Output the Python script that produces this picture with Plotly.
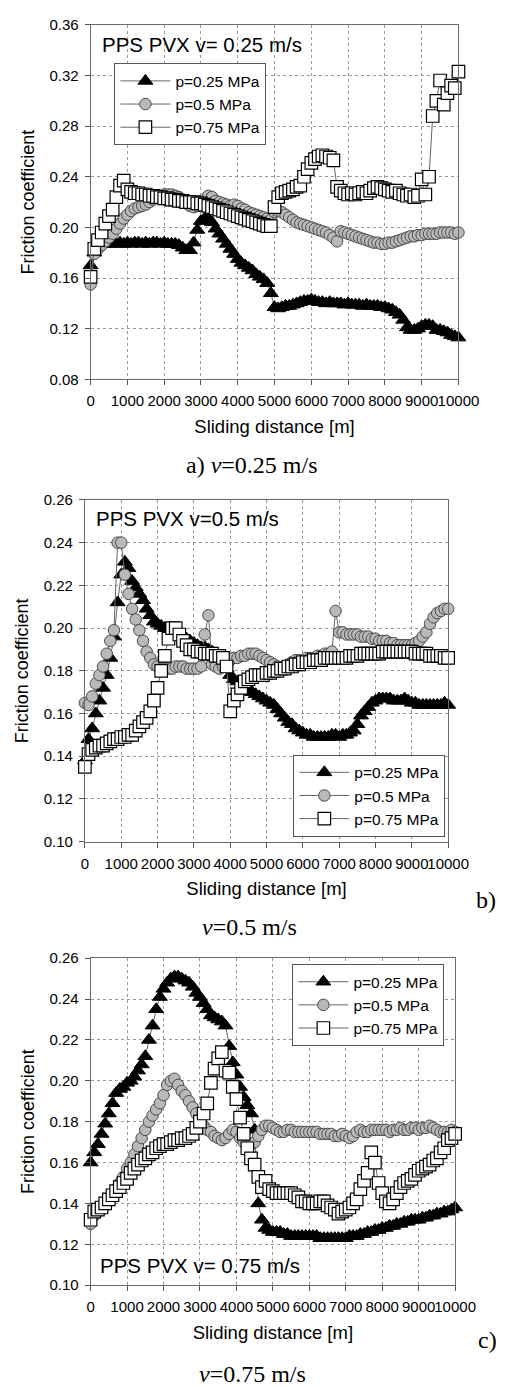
import plotly.graph_objects as go

W, H = 518, 1387

# Sliding distance grid [m]
distance = list(range(0, 10001, 100))

series_names = ["p=0.25 MPa", "p=0.5 MPa", "p=0.75 MPa"]
x_ticks = [0, 1000, 2000, 3000, 4000, 5000, 6000, 7000, 8000, 9000, 10000]

# ---- a) v = 0.25 m/s ----
a_p025 = [0.170,0.180,0.185,0.187,0.188,0.187,0.188,0.187,0.188,0.187,
          0.188,0.187,0.188,0.188,0.187,0.188,0.187,0.188,0.188,0.187,
          0.188,0.187,0.187,0.187,0.186,0.184,0.182,0.182,0.188,0.198,
          0.205,0.207,0.207,0.204,0.199,0.195,0.191,0.187,0.183,0.179,
          0.175,0.172,0.170,0.168,0.166,0.163,0.161,0.159,0.156,0.148,
          0.137,0.136,0.137,0.138,0.138,0.139,0.140,0.141,0.142,0.142,
          0.143,0.142,0.141,0.141,0.140,0.141,0.140,0.140,0.140,0.139,
          0.140,0.139,0.139,0.139,0.138,0.139,0.138,0.138,0.138,0.137,
          0.137,0.136,0.135,0.133,0.131,0.127,0.121,0.119,0.119,0.120,
          0.122,0.123,0.123,0.122,0.119,0.119,0.118,0.117,0.115,0.114,
          0.113]
a_p05 = [0.155,0.179,0.183,0.186,0.189,0.192,0.195,0.199,0.203,0.207,
         0.210,0.213,0.215,0.216,0.217,0.218,0.220,0.222,0.224,0.225,
         0.226,0.226,0.226,0.225,0.224,0.222,0.219,0.217,0.216,0.217,
         0.219,0.222,0.225,0.224,0.221,0.220,0.219,0.218,0.217,0.218,
         0.217,0.215,0.214,0.212,0.211,0.210,0.209,0.208,0.207,0.206,
         0.212,0.213,0.212,0.210,0.208,0.206,0.204,0.203,0.202,0.201,
         0.200,0.199,0.198,0.197,0.196,0.194,0.192,0.189,0.197,0.196,
         0.195,0.194,0.193,0.192,0.191,0.190,0.189,0.188,0.188,0.187,
         0.187,0.188,0.188,0.189,0.190,0.191,0.192,0.193,0.193,0.194,
         0.194,0.195,0.195,0.195,0.195,0.196,0.196,0.196,0.196,0.195,
         0.196]
a_p075 = [0.161,0.183,0.190,0.196,0.203,0.209,0.214,0.224,0.233,0.237,
          0.230,0.228,0.227,0.227,0.226,0.226,0.225,0.225,0.224,0.224,
          0.223,0.223,0.222,0.222,0.221,0.221,0.220,0.220,0.220,0.219,
          0.219,0.218,0.217,0.216,0.215,0.214,0.213,0.212,0.211,0.210,
          0.209,0.208,0.207,0.206,0.205,0.204,0.203,0.202,0.201,0.201,
          0.216,0.224,0.227,0.228,0.229,0.230,0.232,0.233,0.240,0.246,
          0.251,0.254,0.256,0.257,0.256,0.255,0.253,0.232,0.229,0.227,
          0.226,0.227,0.226,0.227,0.228,0.227,0.229,0.231,0.232,0.231,
          0.230,0.229,0.228,0.229,0.227,0.226,0.225,0.226,0.224,0.225,
          0.238,0.226,0.240,0.288,0.300,0.316,0.297,0.306,0.312,0.310,
          0.323]

# ---- b) v = 0.5 m/s ----
b_p025 = [0.138,0.148,0.153,0.160,0.166,0.172,0.178,0.186,0.196,0.212,
          0.225,0.231,0.228,0.222,0.219,0.216,0.213,0.209,0.206,0.203,
          0.202,0.201,0.200,0.200,0.199,0.198,0.197,0.196,0.195,0.194,
          0.193,0.192,0.191,0.191,0.190,0.189,0.188,0.185,0.183,0.181,
          0.178,0.176,0.175,0.173,0.172,0.171,0.170,0.169,0.168,0.167,
          0.166,0.165,0.164,0.162,0.160,0.158,0.156,0.155,0.153,0.152,
          0.151,0.150,0.150,0.149,0.149,0.149,0.149,0.149,0.150,0.150,
          0.149,0.150,0.150,0.151,0.152,0.155,0.159,0.161,0.163,0.165,
          0.166,0.167,0.167,0.167,0.167,0.166,0.166,0.166,0.167,0.166,
          0.165,0.165,0.164,0.164,0.164,0.164,0.164,0.164,0.164,0.165,
          0.164]
b_p05 = [0.165,0.164,0.168,0.174,0.178,0.182,0.188,0.194,0.199,0.240,
         0.240,0.225,0.216,0.209,0.204,0.199,0.194,0.189,0.186,0.183,
         0.182,0.181,0.181,0.181,0.181,0.182,0.182,0.182,0.181,0.181,
         0.181,0.181,0.182,0.197,0.206,0.183,0.182,0.181,0.182,0.184,
         0.185,0.186,0.186,0.187,0.187,0.188,0.188,0.188,0.187,0.186,
         0.185,0.184,0.183,0.182,0.181,0.182,0.183,0.184,0.185,0.185,
         0.185,0.186,0.186,0.186,0.187,0.187,0.188,0.188,0.189,0.208,
         0.198,0.198,0.197,0.197,0.197,0.197,0.196,0.196,0.196,0.195,
         0.195,0.194,0.194,0.194,0.193,0.193,0.192,0.192,0.192,0.192,
         0.192,0.193,0.194,0.196,0.198,0.202,0.205,0.207,0.208,0.209,
         0.209]
b_p075 = [0.135,0.141,0.143,0.144,0.145,0.145,0.146,0.147,0.148,0.148,
          0.149,0.149,0.150,0.150,0.152,0.154,0.156,0.158,0.161,0.166,
          0.172,0.180,0.187,0.195,0.200,0.200,0.197,0.194,0.192,0.190,
          0.190,0.189,0.189,0.188,0.188,0.188,0.187,0.187,0.186,0.182,
          0.161,0.166,0.169,0.172,0.175,0.176,0.177,0.178,0.178,0.178,
          0.179,0.179,0.180,0.180,0.181,0.181,0.182,0.182,0.183,0.183,
          0.184,0.184,0.184,0.185,0.185,0.185,0.186,0.186,0.186,0.186,
          0.186,0.186,0.186,0.187,0.187,0.187,0.188,0.188,0.188,0.188,
          0.188,0.188,0.189,0.189,0.189,0.189,0.189,0.189,0.189,0.189,
          0.189,0.188,0.188,0.188,0.188,0.187,0.187,0.187,0.187,0.186,
          0.186]

# ---- c) v = 0.75 m/s ----
c_p025 = [0.160,0.165,0.169,0.174,0.179,0.184,0.189,0.194,0.196,0.197,
          0.199,0.200,0.202,0.205,0.208,0.212,0.220,0.227,0.235,0.241,
          0.245,0.248,0.250,0.251,0.251,0.250,0.249,0.248,0.246,0.243,
          0.241,0.238,0.235,0.232,0.231,0.230,0.229,0.227,0.217,0.209,
          0.203,0.197,0.192,0.188,0.184,0.176,0.140,0.132,0.128,0.127,
          0.126,0.126,0.126,0.125,0.125,0.124,0.124,0.124,0.124,0.124,
          0.124,0.124,0.124,0.123,0.123,0.123,0.123,0.123,0.123,0.123,
          0.123,0.124,0.124,0.124,0.125,0.125,0.126,0.126,0.127,0.127,
          0.128,0.128,0.129,0.129,0.130,0.130,0.131,0.131,0.132,0.132,
          0.132,0.133,0.133,0.134,0.134,0.135,0.135,0.136,0.136,0.137,
          0.138]
c_p05 = [0.130,0.134,0.136,0.137,0.139,0.141,0.144,0.147,0.150,0.153,
         0.157,0.160,0.164,0.168,0.172,0.176,0.180,0.183,0.186,0.189,
         0.193,0.198,0.200,0.201,0.198,0.195,0.193,0.190,0.187,0.184,
         0.181,0.178,0.176,0.175,0.173,0.172,0.171,0.172,0.174,0.176,
         0.175,0.172,0.170,0.169,0.169,0.170,0.173,0.176,0.178,0.178,
         0.177,0.176,0.175,0.175,0.176,0.176,0.175,0.175,0.175,0.175,
         0.175,0.175,0.175,0.174,0.174,0.174,0.174,0.173,0.173,0.174,
         0.173,0.172,0.173,0.175,0.176,0.175,0.175,0.176,0.176,0.176,
         0.176,0.176,0.175,0.176,0.176,0.177,0.176,0.176,0.177,0.177,
         0.176,0.177,0.177,0.178,0.177,0.176,0.175,0.175,0.175,0.176,
         0.175]
c_p075 = [0.132,0.136,0.137,0.138,0.140,0.142,0.144,0.146,0.148,0.150,
          0.152,0.155,0.157,0.159,0.161,0.162,0.164,0.165,0.167,0.168,
          0.169,0.169,0.170,0.171,0.171,0.172,0.172,0.173,0.174,0.177,
          0.180,0.184,0.189,0.199,0.206,0.211,0.214,0.205,0.204,0.197,
          0.191,0.182,0.174,0.167,0.162,0.159,0.153,0.148,0.151,0.147,
          0.146,0.145,0.145,0.145,0.145,0.145,0.144,0.143,0.141,0.141,
          0.140,0.140,0.140,0.141,0.141,0.139,0.138,0.137,0.135,0.136,
          0.137,0.138,0.140,0.142,0.147,0.151,0.155,0.165,0.160,0.150,
          0.145,0.141,0.140,0.142,0.145,0.148,0.150,0.151,0.152,0.154,
          0.156,0.157,0.158,0.159,0.161,0.162,0.165,0.167,0.171,0.172,
          0.174]

panels = [
    dict(data=[a_p025, a_p05, a_p075], yrange=[0.08, 0.36], dtick=0.04,
         box=(91, 477.5, 16, 375), legend_box=(116, 55),
         inner="PPS PVX v= 0.25 m/s", inner_pos=(101, 36)),
    dict(data=[b_p025, b_p05, b_p075], yrange=[0.10, 0.26], dtick=0.02,
         box=(85, 466.7, 497, 843), legend_box=(304, 755),
         inner="PPS PVX v=0.5 m/s", inner_pos=(95, 516)),
    dict(data=[c_p025, c_p05, c_p075], yrange=[0.10, 0.26], dtick=0.02,
         box=(91, 474, 961, 1292), legend_box=(303, 967),
         inner="PPS PVX v= 0.75 m/s", inner_pos=(99, 1272)),
]

styles = [
    dict(symbol="triangle-up", size=13, color="black", line=dict(color="black", width=1)),
    dict(symbol="circle", size=11.5, color="#b9b9b9", line=dict(color="#4a4a4a", width=1)),
    dict(symbol="square", size=12.5, color="white", line=dict(color="black", width=1.2)),
]

FONT = "Arial, Liberation Sans, sans-serif"
SERIF = "Times New Roman, Liberation Serif, serif"

fig = go.Figure()
layout = dict(width=W, height=H, margin=dict(l=0, r=0, t=0, b=0),
              paper_bgcolor="white", plot_bgcolor="white",
              font=dict(family=FONT, color="black"), showlegend=True)
annotations = []

for i, p in enumerate(panels):
    k = "" if i == 0 else str(i + 1)
    xl, xr, yt, yb = p["box"]
    legend_name = "legend" + k
    for j, (vals, st) in enumerate(zip(p["data"], styles)):
        fig.add_trace(go.Scatter(
            x=distance, y=vals, mode="lines+markers", name=series_names[j],
            xaxis="x" + k, yaxis="y" + k, legend=legend_name,
            line=dict(color="#666666", width=1),
            marker=st, cliponaxis=False))
    common = dict(showline=True, linecolor="#6a6a6a", linewidth=1, mirror=True,
                  ticks="outside", ticklen=5, tickcolor="#555555",
                  showgrid=True, gridcolor="#9a9a9a", griddash="dot", gridwidth=1,
                  zeroline=False, tickfont=dict(size=15, family=FONT, color="black"))
    layout["xaxis" + k] = dict(
        common, domain=[xl / W, xr / W], anchor="y" + k, range=[0, 10000],
        tickvals=x_ticks, ticktext=[str(t) for t in x_ticks], tickangle=0,
        ticklabelstandoff=3,
        title=dict(text="Sliding distance [m]", font=dict(size=18.5, family=FONT), standoff=11))
    layout["yaxis" + k] = dict(
        common, domain=[1 - yb / H, 1 - yt / H], anchor="x" + k, range=p["yrange"],
        dtick=p["dtick"], tick0=0, tickformat=".2f", ticklabelstandoff=3,
        title=dict(text="Friction coefficient", font=dict(size=18, family=FONT), standoff=10))
    lx, ly = p["legend_box"]
    layout[legend_name] = dict(
        x=lx / W, y=1 - ly / H, xanchor="left", yanchor="top", xref="paper", yref="paper",
        bgcolor="white", bordercolor="#555555", borderwidth=1,
        font=dict(size=15.5, family=FONT, color="black"), itemwidth=50,
        tracegroupgap=0)
    ix, iy = p["inner_pos"]
    annotations.append(dict(text=p["inner"], x=ix / W, y=1 - iy / H, xref="paper", yref="paper",
                            xanchor="left", yanchor="middle", showarrow=False,
                            font=dict(size=20.5, family=FONT, color="black")))

captions = [
    ("a) <i>v</i>=0.25 m/s", 261, 462),
    ("<i>v</i>=0.5 m/s", 258, 929),
    ("b)", 506, 902),
    ("<i>v</i>=0.75 m/s", 261, 1382),
    ("c)", 508, 1348),
]
for text, cx, cy in captions:
    annotations.append(dict(text=text, x=cx / W, y=1 - cy / H, xref="paper", yref="paper",
                            xanchor="center", yanchor="middle", showarrow=False,
                            font=dict(size=24, family=SERIF, color="black")))

layout["annotations"] = annotations
fig.update_layout(**layout)
fig.write_html("out.html")
